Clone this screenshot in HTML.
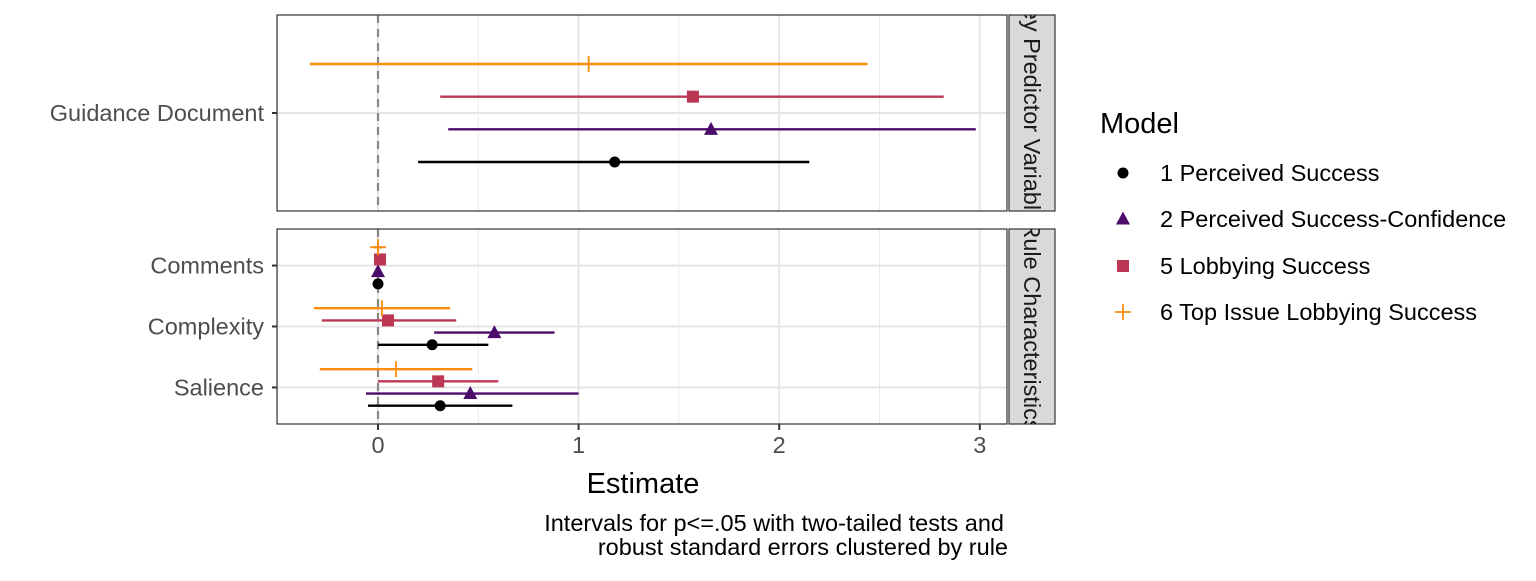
<!DOCTYPE html>
<html><head><meta charset="utf-8"><style>
body{margin:0;background:#fff;}
svg text{font-family:"Liberation Sans",Arial,sans-serif;}
</style></head><body>
<svg id="c" width="1536" height="576" xmlns="http://www.w3.org/2000/svg"></svg>
<script>
const models=["1 Perceived Success","2 Perceived Success-Confidence","5 Lobbying Success","6 Top Issue Lobbying Success"];
const colors=["#000000","#4B0C6B","#BB3754","#F98C0A"];
const panel1Cats=["Guidance Document"];
const panel2Cats=["Salience","Complexity","Comments"];
const p1Est=[[1.18],[1.66],[1.57],[1.05]];
const p1Lo=[[0.20],[0.35],[0.31],[-0.34]];
const p1Hi=[[2.15],[2.98],[2.82],[2.44]];
const p2Est=[[0.31,0.27,0.0],[0.46,0.58,0.0],[0.30,0.05,0.01],[0.09,0.02,0.0]];
const p2Lo=[[-0.05,0.0,-0.01],[-0.06,0.28,-0.01],[0.0,-0.28,0.0],[-0.29,-0.32,-0.02]];
const p2Hi=[[0.67,0.55,0.01],[1.0,0.88,0.01],[0.60,0.39,0.02],[0.47,0.36,0.02]];
const xTicks=[0,1,2,3];
const stripLabels=["Key Predictor Variables","Rule Characteristics"];

const NS="http://www.w3.org/2000/svg";
const svg=document.getElementById('c');
function el(t,a,p){const e=document.createElementNS(NS,t);for(const k in a)e.setAttribute(k,a[k]);(p||svg).appendChild(e);return e;}
const X0=277,X1=1007;
const FS=23.5;
const xs=v=>378+200.6*v;
const panels=[{y0:15,y1:211,cats:panel1Cats,est:p1Est,lo:p1Lo,hi:p1Hi},{y0:229,y1:424,cats:panel2Cats,est:p2Est,lo:p2Lo,hi:p2Hi}];
function shape(i,x,y,g){
  if(i===0)return el('circle',{cx:x,cy:y,r:5.5,fill:colors[0]},g);
  if(i===1)return el('polygon',{points:`${x},${y-7.5} ${x-7},${y+5.5} ${x+7},${y+5.5}`,fill:colors[1]},g);
  if(i===2)return el('rect',{x:x-6,y:y-6,width:12,height:12,fill:colors[2]},g);
  return el('path',{d:`M${x-8},${y}H${x+8}M${x},${y-8}V${y+8}`,stroke:colors[3],'stroke-width':1.8,fill:'none'},g);
}
panels.forEach((p,pi)=>{
  const n=p.cats.length;
  const ys=v=>p.y1-(v-0.4)/(n+0.2)*(p.y1-p.y0);
  const g=el('g',{});
  
  
  [-0.5,0.5,1.5,2.5].forEach(v=>el('line',{x1:xs(v),x2:xs(v),y1:p.y0,y2:p.y1,stroke:'#ebebeb','stroke-width':1},g));
  xTicks.forEach(v=>el('line',{x1:xs(v),x2:xs(v),y1:p.y0,y2:p.y1,stroke:'#e5e5e5','stroke-width':2},g));
  p.cats.forEach((c,ci)=>{
    const y=ys(ci+1);
    el('line',{x1:X0,x2:X1,y1:y,y2:y,stroke:'#e5e5e5','stroke-width':2},g);
    el('line',{x1:X0-5,x2:X0,y1:y,y2:y,stroke:'#333','stroke-width':2},g);
    const t=el('text',{x:X0-13,y:y+8,'text-anchor':'end','font-size':FS,fill:'#4d4d4d'},g);t.textContent=c;
    
    
  });
  el('line',{x1:xs(0),x2:xs(0),y1:p.y0,y2:p.y1,stroke:'#888','stroke-width':2.2,'stroke-dasharray':'8,6'},g);
  models.forEach((m,mi)=>{
    const off=-0.3+0.2*mi;
    p.cats.forEach((c,ci)=>{
      const y=ys(ci+1+off);
      const ln=el('line',{x1:xs(p.lo[mi][ci]),x2:xs(p.hi[mi][ci]),y1:y,y2:y,stroke:colors[mi],'stroke-width':2.4},g);
      
      
      const s=shape(mi,xs(p.est[mi][ci]),y,g);
      
      
    });
  });
  el('rect',{x:X0,y:p.y0,width:X1-X0,height:p.y1-p.y0,fill:'none',stroke:'#333','stroke-width':1.2},g);
  el('rect',{x:1009,y:p.y0,width:46,height:p.y1-p.y0,fill:'#d9d9d9',stroke:'#333','stroke-width':1.2},g);
  const cp=el('clipPath',{id:'cp'+pi},g);el('rect',{x:1009,y:p.y0,width:46,height:p.y1-p.y0},cp);
  const cg=el('g',{'clip-path':`url(#cp${pi})`},g);
  const st=el('text',{x:0,y:0,'text-anchor':'middle','font-size':FS,fill:'#1a1a1a',transform:`translate(1024,${(p.y0+p.y1)/2}) rotate(90)`},cg);
  st.textContent=stripLabels[pi];
  
  
});
xTicks.forEach(v=>{
  el('line',{x1:xs(v),x2:xs(v),y1:424,y2:430,stroke:'#333','stroke-width':2});
  const t=el('text',{x:xs(v),y:453,'text-anchor':'middle','font-size':FS,fill:'#4d4d4d'});t.textContent=v;
  
  
});
let t=el('text',{x:643,y:493,'text-anchor':'middle','font-size':29,fill:'#000'});t.textContent='Estimate';

t=el('text',{x:1004,y:531,'text-anchor':'end','font-size':FS,fill:'#000'});t.textContent='Intervals for p<=.05 with two-tailed tests and';

t=el('text',{x:1008,y:555,'text-anchor':'end','font-size':FS,fill:'#000'});t.textContent='robust standard errors clustered by rule';

t=el('text',{x:1100,y:133,'font-size':29,fill:'#000'});t.textContent='Model';

const legY=[173,219,266,312];
models.forEach((m,i)=>{
  const g=el('g',{});
  
  
  shape(i,1123,legY[i],g);
  const tt=el('text',{x:1160,y:legY[i]+8,'font-size':FS,fill:'#000'},g);tt.textContent=m;
});
</script>
</body></html>
